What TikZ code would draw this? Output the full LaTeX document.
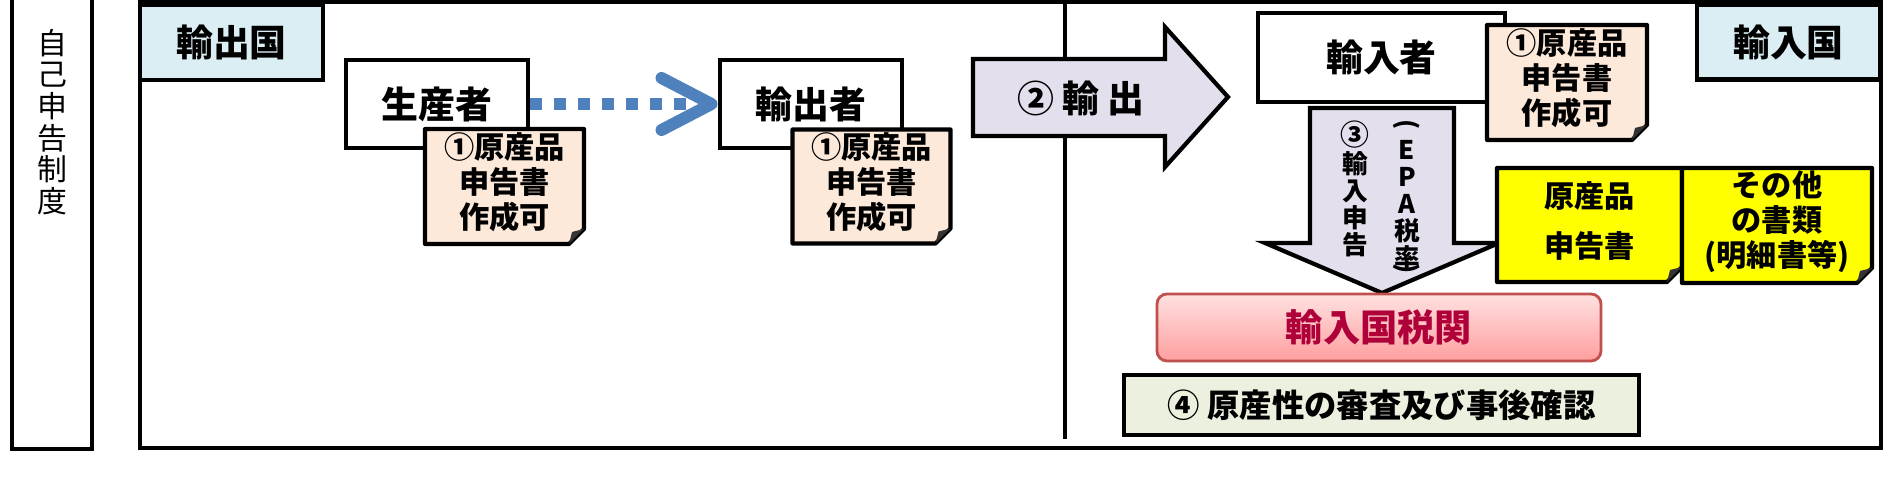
\documentclass[tikz,border=0pt]{standalone}
\usepackage{fontspec}
\setmainfont{Noto Sans CJK JP}
\usetikzlibrary{arrows.meta,calc}
\definecolor{hdrBlue}{HTML}{DAEEF3}
\definecolor{memoPeach}{HTML}{FDE9D9}
\definecolor{arrowLilac}{HTML}{E4DFEC}
\definecolor{docYellow}{HTML}{FFFF00}
\definecolor{flowBlue}{HTML}{4F81BD}
\definecolor{customsRed}{HTML}{C0504D}
\definecolor{customsText}{HTML}{B0003A}
\definecolor{reviewGreen}{HTML}{EBF1DE}
\tikzset{
  frame line/.style={draw=black,line width=1pt},
  header node/.style={draw=black,line width=1.3pt,fill=hdrBlue,
    minimum width=1.83cm,minimum height=0.75cm,
    font=\fontsize{10.5}{12}\selectfont\bfseries},
  party node/.style={draw=black,line width=1.4pt,fill=white,
    minimum width=1.82cm,minimum height=0.88cm,
    font=\fontsize{10.5}{12}\selectfont\bfseries},
  memo line/.style={draw=black,line width=1.2pt,line join=round},
  memo node/.style={inner sep=0pt,align=center,
    font=\fontsize{8.6}{10}\selectfont\bfseries},
  block arrow/.style={draw=black,line width=1.2pt,fill=arrowLilac},
  flow arrow/.style={-{Straight Barb[length=0.5cm,width=0.52cm,round]},
    draw=flowBlue,line width=0.12cm,dash pattern=on 0.115cm off 0.125cm},
  column text/.style={align=center,inner sep=0pt,
    font=\fontsize{7.3}{7.7}\selectfont\bfseries}
}
% memo sheet with folded corner: name, centre, width, height, fill, text
\newcommand{\memobox}[6]{%
  \filldraw[memo line,fill=#5] ($(#2)+(-#3/2,-#4/2)$) -- ($(#2)+(#3/2,-#4/2)$)
    -- ($(#2)+(#3/2,#4/2-0.15)$) -- ($(#2)+(#3/2-0.15,#4/2)$)
    -- ($(#2)+(-#3/2,#4/2)$) -- cycle;
  \fill[black!80] ($(#2)+(#3/2,#4/2-0.15)$) -- ($(#2)+(#3/2-0.12,#4/2-0.12)$)
    -- ($(#2)+(#3/2-0.15,#4/2)$) -- cycle;
  \node[memo node] (#1) at ($(#2)+(0,-0.04)$) {#6};}
\newcommand{\vparen}[1]{\rotatebox[origin=c]{-90}{#1}}

\begin{document}
\begin{tikzpicture}[x=1cm,y=-1cm]
    \useasboundingbox (0,0) rectangle (18.98,4.77);
    % self declaration column
    \draw[frame line,line width=1.1pt] (0.12,-0.2) rectangle (0.92,4.49);
    \node[align=center,font=\fontsize{8.5}{9}\selectfont] (selfdecl) at (0.52,1.22)
      {自\\己\\申\\告\\制\\度};
    % outer frame and country divider
    \draw[frame line] (1.40,0.02) rectangle (18.81,4.48);
    \draw[frame line,line width=1.2pt] (10.65,0) -- (10.65,4.39);
    \node[header node] (exportc) at (2.315,0.425) {輸出国};
    \node[header node] (importc) at (17.885,0.42) {輸入国};
    % exporting side
    \node[party node] (producer) at (4.37,1.04) {生産者};
    \node[party node] (exporter) at (8.11,1.04) {輸出者};
    \memobox{prodmemo}{5.045,1.865}{1.59}{1.15}{memoPeach}{①原産品\\申告書\\作成可}
    \memobox{expmemo}{8.715,1.865}{1.58}{1.14}{memoPeach}{①原産品\\申告書\\作成可}
    \draw[flow arrow] (producer) -- (exporter);
    % 2: export
    \draw[block arrow] (9.73,0.59) -- (11.65,0.59) -- (11.65,0.27) -- (12.28,0.97)
      -- (11.65,1.67) -- (11.65,1.36) -- (9.73,1.36) -- cycle;
    \node[font=\fontsize{10.5}{12}\selectfont\bfseries] (exportlbl) at (10.81,0.98)
      {② 輸 出};
    % importing side
    \node[party node,minimum width=2.47cm,minimum height=0.89cm] (importer)
      at (13.815,0.575) {輸入者};
    \memobox{impmemo}{15.67,0.825}{1.60}{1.15}{memoPeach}{①原産品\\申告書\\作成可}
    % 3: import declaration
    \draw[block arrow] (13.10,1.08) -- (14.54,1.08) -- (14.54,2.43) -- (14.99,2.43)
      -- (13.82,2.93) -- (12.65,2.43) -- (13.10,2.43) -- cycle;
    \node[column text] (declnum) at (13.55,1.89) {\fontsize{8.2}{7.7}\selectfont ③\\輸\\入\\申\\告};
    \node[column text] (eparate) at (14.07,1.98)
      {\vparen{(}\\E\\P\\A\\税\\率\\[-0.18cm]\vparen{)}};
    \memobox{origindecl}{15.895,2.25}{1.85}{1.14}{docYellow}{原産品\\[0.15cm]申告書}
    \memobox{otherdocs}{17.77,2.255}{1.90}{1.15}{docYellow}{その他\\の書類\\(明細書等)}
    % 4: customs
    \node[draw=customsRed,line width=0.8pt,rounded corners=0.1cm,
      top color=red!12,bottom color=red!38,minimum width=4.44cm,
      minimum height=0.67cm,text=customsText,
      font=\fontsize{10.6}{12}\selectfont\bfseries] (customs) at (13.79,3.275)
      {輸入国税関};
    \node[draw=black,line width=1.3pt,fill=reviewGreen,minimum width=5.15cm,
      minimum height=0.60cm,font=\fontsize{9.2}{11}\selectfont\bfseries]
      (review) at (13.815,4.05) {④ 原産性の審査及び事後確認};
  \end{tikzpicture}
\end{document}
